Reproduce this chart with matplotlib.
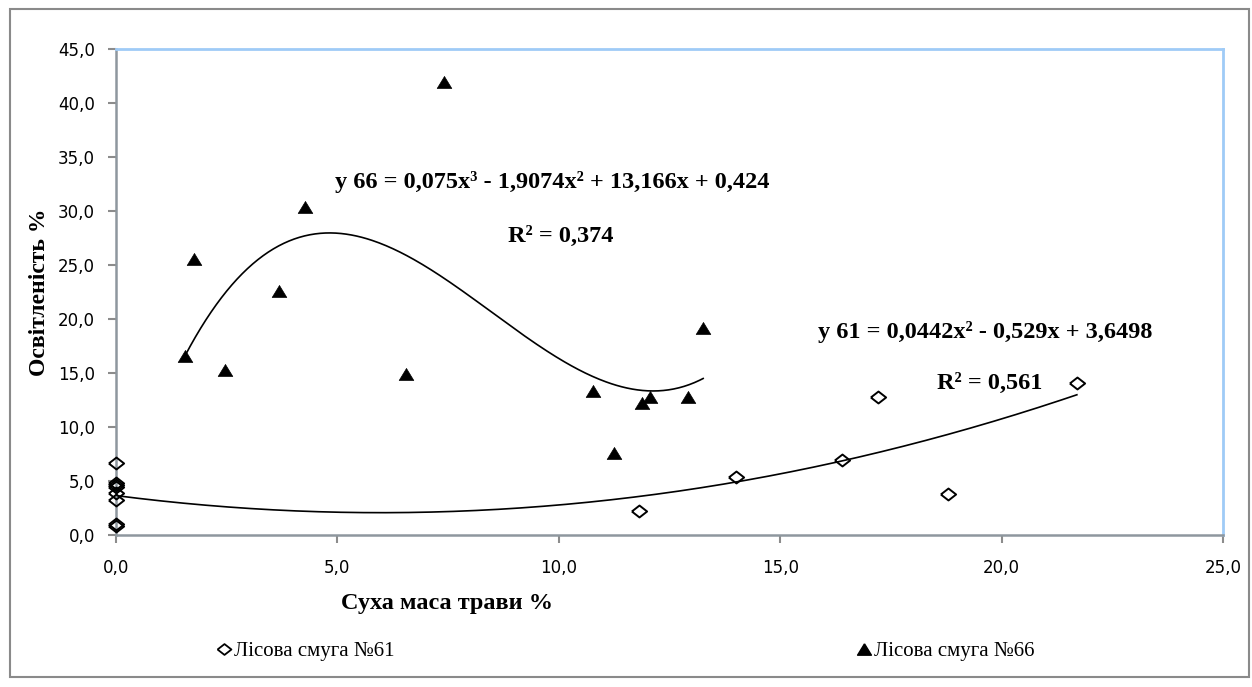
import numpy as np
import matplotlib
matplotlib.use("Agg")
import matplotlib.pyplot as plt
from matplotlib.patches import Rectangle
from matplotlib.lines import Line2D

# ---- data ----
x61 = [0, 0, 0, 0, 0, 0, 0, 0, 11.8, 14.0, 16.4, 17.2, 18.8, 21.7]
y61 = [6.7, 4.8, 4.6, 4.4, 3.9, 3.2, 1.0, 0.8, 2.2, 5.4, 6.9, 12.8, 3.8, 14.1]
x66 = [1.56, 1.77, 2.46, 3.69, 4.27, 6.55, 7.41, 10.77, 11.25, 11.89, 12.06, 12.91, 13.26]
y66 = [16.6, 25.6, 15.3, 22.6, 30.4, 14.9, 41.9, 13.3, 7.6, 12.2, 12.8, 12.8, 19.2]
coef61 = [0.0442, -0.529, 3.6498]
coef66 = [0.075, -1.9074, 13.166, 0.424]
label61 = "Лісова смуга №61"
label66 = "Лісова смуга №66"
eq66 = "y 66 = 0,075x³ - 1,9074x² + 13,166x + 0,424"
r66 = "R² = 0,374"
eq61 = "y 61 = 0,0442x² - 0,529x + 3,6498"
r61 = "R² = 0,561"
xlabel = "Суха маса трави %"
ylabel = "Освітленість %"
xticks = [0, 5, 10, 15, 20, 25]
yticks = [0, 5, 10, 15, 20, 25, 30, 35, 40, 45]

W, H = 1252, 687
fig = plt.figure(figsize=(W / 100, H / 100), dpi=100)
ax = fig.add_axes([116 / W, 1 - 535 / H, (1223 - 116) / W, (535 - 49) / H])

serif = "Liberation Serif"
diamond = [(-1, 0), (0, 0.78), (1, 0), (0, -0.78), (-1, 0)]
tri = [(0, 0.82), (-1, -0.82), (1, -0.82), (0, 0.82)]

ax.plot(x61, y61, linestyle="none", marker=diamond, markersize=11, markerfacecolor="none",
        markeredgecolor="black", markeredgewidth=1.4, clip_on=False, zorder=3)
ax.plot(x66, y66, linestyle="none", marker=tri, markersize=10.5, markerfacecolor="black",
        markeredgecolor="black", markeredgewidth=0.5, clip_on=False, zorder=3)

xs61 = np.linspace(min(x61), max(x61), 300)
ax.plot(xs61, np.polyval(coef61, xs61), color="black", lw=1.2, zorder=2)
xs66 = np.linspace(min(x66), max(x66), 300)
ax.plot(xs66, np.polyval(coef66, xs66), color="black", lw=1.2, zorder=2)

ax.set_xlim(0, 25)
ax.set_ylim(0, 45)
ax.set_xticks(xticks)
ax.set_yticks(yticks)
ax.set_xticklabels([f"{v:.1f}".replace(".", ",") for v in xticks])
ax.set_yticklabels([f"{v:.1f}".replace(".", ",") for v in yticks])
ax.tick_params(axis="both", direction="out", length=6, width=1.5, color="#8c8c8c",
               labelsize=12, labelcolor="black")
ax.tick_params(axis="y", pad=9)
ax.tick_params(axis="x", pad=11)

for s in ["left", "bottom"]:
    ax.spines[s].set_color("#8e979e")
    ax.spines[s].set_linewidth(1.8)
for s in ["top", "right"]:
    ax.spines[s].set_color("#9fcbf7")
    ax.spines[s].set_linewidth(2.0)

fs = 17.5
ax.text(4.95, 32.7, eq66, fontfamily=serif, fontweight="bold", fontsize=fs, ha="left", va="center")
ax.text(8.85, 27.6, r66, fontfamily=serif, fontweight="bold", fontsize=fs, ha="left", va="center")
ax.text(15.86, 18.8, eq61, fontfamily=serif, fontweight="bold", fontsize=fs, ha="left", va="center")
ax.text(18.54, 14.0, r61, fontfamily=serif, fontweight="bold", fontsize=fs, ha="left", va="center")

fig.text(447 / W, 1 - 604 / H, xlabel, fontfamily=serif, fontweight="bold", fontsize=fs,
         ha="center", va="center")
fig.text(40 / W, 1 - 292 / H, ylabel, fontfamily=serif, fontweight="bold", fontsize=fs - 0.5,
         ha="center", va="center", rotation=90)

h61 = Line2D([], [], linestyle="none", marker=diamond, markersize=10, markerfacecolor="none",
             markeredgecolor="black", markeredgewidth=1.3)
h66 = Line2D([], [], linestyle="none", marker=tri, markersize=10, markerfacecolor="black",
             markeredgecolor="black")
leg_kw = dict(frameon=False, prop={"family": serif, "size": 15}, handlelength=0.7,
              handletextpad=0.15, borderpad=0, loc="center left")
fig.legend(handles=[h61], labels=[label61], bbox_to_anchor=(206 / W, 1 - 651 / H), **leg_kw)
fig.legend(handles=[h66], labels=[label66], bbox_to_anchor=(846 / W, 1 - 651 / H), **leg_kw)

fig.patches.append(Rectangle((10 / W, 1 - 677 / H), (1249 - 10) / W, (677 - 9) / H,
                             transform=fig.transFigure, fill=False, edgecolor="#8a8a8a",
                             linewidth=1.5))

fig.savefig("out.png", dpi=100)
